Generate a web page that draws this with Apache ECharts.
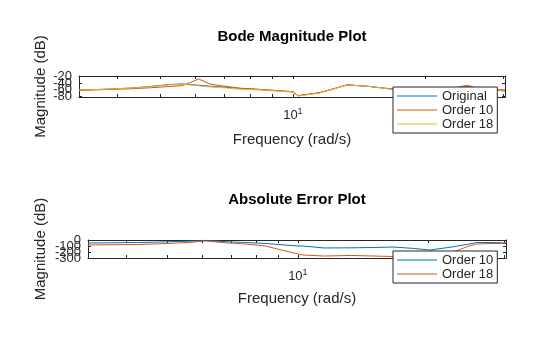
<!DOCTYPE html>
<html>
<head>
<meta charset="utf-8">
<script src="https://cdn.jsdelivr.net/npm/echarts@6/dist/echarts.min.js"></script>
<style>
html,body{margin:0;padding:0;background:#fff;}
#chart{width:560px;height:337px;}
</style>
</head>
<body>
<div id="chart"></div>
<script>
// ---- data ----
const freq = [3.27, 3.64, 4.26, 4.73, 5.25, 5.62, 5.83, 6.11, 6.47, 6.82, 7.58, 8.41, 10.0, 10.27, 11.5, 13.3, 14.96, 16.6, 18.5, 20.2, 22.7, 24.9, 25.9, 28.1, 30.3];
const magOriginal = [-61, -59, -55, -50, -44, -42, -44, -46, -49, -51, -56, -59, -66, -78, -69, -45, -50, -57, -59, -60, -57, -50, -54, -60, -64];
const magOrder10  = [-61, -60, -57, -54, -50, -47, -39, -27, -42, -47, -55, -59, -66, -78, -69, -45, -50, -57, -59, -60, -57, -46, -54, -58, -60];
const magOrder18  = [-61, -59, -55, -51, -45, -43.5, -45, -48, -51, -53, -58, -60.5, -67, -79, -70, -45, -50, -58, -60, -61, -59, -51, -56, -60, -63];
const errOrder10  = [-50, -47, -42, -35, -25, -20, -15, -5, -17, -28, -42, -58, -100, -100, -133, -130, -125, -117, -140, -167, -117, -67, -42, -42, -50];
const errOrder18  = [-83, -80, -75, -65, -50, -40, -30, -17, -33, -48, -67, -100, -233, -250, -267, -258, -267, -275, -280, -283, -208, -100, -67, -58, -58];
const xTickValues = [4, 5, 6, 7, 8, 9, 10, 20, 30];
const xLabelValues = [10];
const magTicks = [-80, -60, -40, -20];
const errTicks = [-300, -200, -100, 0];
const titles = ['Bode Magnitude Plot', 'Absolute Error Plot'];
const xName = 'Frequency (rad/s)';
const yName = 'Magnitude (dB)';

const FONT = 'Liberation Sans, Arial, Helvetica, sans-serif';
const AX = '#262626';
const C1 = '#0072BD', C2 = '#D95319', C3 = '#EDB120';

function pairs(ys){ return freq.map((f,i)=>[f, ys[i]]); }

function xAxis(grid, pos, main, gap){
  return {
    type:'log', logBase:10, gridIndex:grid, position:pos, min:3.27, max:30.3,
    name: main ? xName : '', nameLocation:'middle', nameGap: gap, nameMoveOverlap:false,
    nameTextStyle:{fontFamily:FONT, fontSize:15, color:AX},
    axisLine:{show:true, onZero:false, lineStyle:{color:AX, width:1}},
    axisTick:{show:true, inside:true, length:3, customValues:xTickValues, lineStyle:{color:AX, width:1}},
    axisLabel:{show:main, customValues:xLabelValues, margin:10, color:AX, fontFamily:FONT, fontSize:13,
      showMinLabel:true, showMaxLabel:true, hideOverlap:false,
      formatter: v => '{b|10}{s|' + Math.round(Math.log10(v)) + '}',
      rich:{b:{fontFamily:FONT, fontSize:13, color:AX}, s:{fontFamily:FONT, fontSize:9, color:AX, verticalAlign:'top', padding:[0,0,8,0]}}},
    splitLine:{show:false}
  };
}
// frame axis: line + inward ticks (+ name on the left one)
function yFrame(grid, pos, min, max, ticks, gap){
  return {
    type:'value', gridIndex:grid, position:pos, min:min, max:max,
    name: pos === 'left' ? yName : '', nameLocation:'middle', nameGap: gap, nameRotate:90, nameMoveOverlap:false,
    nameTextStyle:{fontFamily:FONT, fontSize:15, color:AX},
    axisLine:{show:true, onZero:false, lineStyle:{color:AX, width:1}},
    axisTick:{show:true, inside:true, length:3, customValues:ticks, lineStyle:{color:AX, width:1}},
    axisLabel:{show:false},
    splitLine:{show:false}
  };
}
// label-only axis: one tick label each, so overlapping labels are all drawn as in the reference
function yLabel(grid, min, max, v){
  return {
    type:'value', gridIndex:grid, position:'left', min:min, max:max,
    axisLine:{show:false}, axisTick:{show:false}, splitLine:{show:false},
    axisLabel:{show:true, customValues:[v], margin:7, color:AX, fontFamily:FONT, fontSize:13,
      showMinLabel:true, showMaxLabel:true}
  };
}
function line(name, data, color, xi, yi){
  return {type:'line', name:name, data:data, xAxisIndex:xi, yAxisIndex:yi, symbol:'none',
    lineStyle:{color:color, width:1}, itemStyle:{color:color}, animation:false};
}
function legend(names, colors, top, fmt){
  return {orient:'vertical', left:393, top:top, padding:[2,4,2,4], itemGap:0, itemWidth:40, itemHeight:1,
    icon:'rect',
    backgroundColor:'#fff', borderColor:AX, borderWidth:1, borderRadius:0,
    data:names.map((n,i)=>({name:n, itemStyle:{color:colors[i]}})),
    selectedMode:false, formatter: fmt,
    textStyle:{fontFamily:FONT, fontSize:13, color:AX, lineHeight:14}};
}

const yAxes = [
  yFrame(0,'left',-82,-18,magTicks,31),   // 0
  yFrame(0,'right',-82,-18,magTicks,0),   // 1
  yFrame(1,'left',-300,0,errTicks,40),    // 2
  yFrame(1,'right',-300,0,errTicks,0)     // 3
];
magTicks.forEach(v => yAxes.push(yLabel(0,-82,-18,v)));
errTicks.forEach(v => yAxes.push(yLabel(1,-300,0,v)));

const chart = echarts.init(document.getElementById('chart'), null, {renderer:'canvas'});
chart.setOption({
  animation:false,
  backgroundColor:'#fff',
  title:[
    {text:titles[0], left:287, top:24, textAlign:'center', textStyle:{fontFamily:FONT, fontSize:15, fontWeight:'bold', color:'#000'}},
    {text:titles[1], left:292, top:187, textAlign:'center', textStyle:{fontFamily:FONT, fontSize:15, fontWeight:'bold', color:'#000'}}
  ],
  grid:[
    {left:79, top:76, width:426, height:21},
    {left:88, top:240, width:418, height:18}
  ],
  xAxis:[ xAxis(0,'bottom',true,35), xAxis(0,'top',false,0), xAxis(1,'bottom',true,33), xAxis(1,'top',false,0) ],
  yAxis: yAxes,
  legend:[
    legend(['Original','Order 10','Order 18'], [C1,C2,C3], 87, n => n),
    legend(['Error Order 10','Error Order 18'], [C1,C2], 251, n => n.replace('Error ',''))
  ],
  series:[
    line('Original', pairs(magOriginal), C1, 0, 0),
    line('Order 10', pairs(magOrder10), C2, 0, 0),
    line('Order 18', pairs(magOrder18), C3, 0, 0),
    line('Error Order 10', pairs(errOrder10), C1, 2, 2),
    line('Error Order 18', pairs(errOrder18), C2, 2, 2)
  ]
});
</script>
</body>
</html>
